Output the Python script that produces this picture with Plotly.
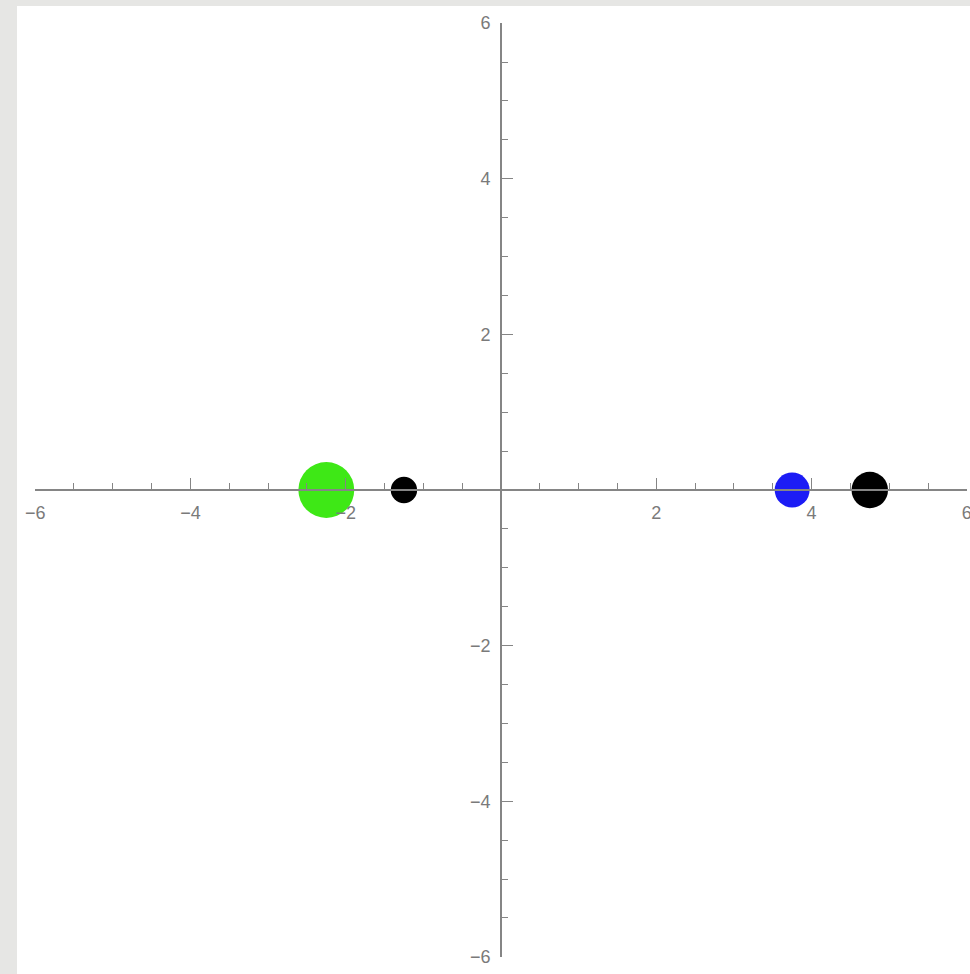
import plotly.graph_objects as go

# Bodies: position on the x axis, radius in axis units, colour
body_x = [-2.25, -1.25, 3.75, 4.75]
body_y = [0.0, 0.0, 0.0, 0.0]
body_r = [0.36, 0.17, 0.225, 0.235]
body_color = ["rgb(62,232,22)", "black", "rgb(28,28,245)", "black"]

# Links between paired bodies (index pairs) and their colours
links = [(0, 1), (2, 3)]
link_color = ["rgb(62,232,22)", "rgb(28,28,245)"]

tick_vals = [-6, -4, -2, 2, 4, 6]
tick_text = ["\u22126", "\u22124", "\u22122", "2", "4", "6"]

W, H = 970, 974
M = dict(l=35, r=3, t=23, b=17)
x_range = [-6.002, 6.002]
y_range = [-6.002, 6.002]
px_per_unit = (W - M["l"] - M["r"]) / (x_range[1] - x_range[0])

fig = go.Figure()

for (a, b), c in zip(links, link_color):
    fig.add_trace(go.Scatter(
        x=[body_x[a], body_x[b]], y=[body_y[a], body_y[b]],
        mode="lines", line=dict(color=c, width=1.5),
        hoverinfo="skip", showlegend=False))

fig.add_trace(go.Scatter(
    x=body_x, y=body_y, mode="markers",
    marker=dict(size=[2 * r * px_per_unit for r in body_r],
                color=body_color, opacity=1, line=dict(width=0)),
    showlegend=False))

axis_color = "#858585"
label_font = dict(family="Liberation Sans, Arial, sans-serif", size=18, color="#7a7a7a")

common = dict(
    tickmode="array", tickvals=tick_vals, ticktext=tick_text,
    showline=True, linecolor=axis_color, linewidth=1.6,
    ticks="inside", ticklen=11, tickwidth=1.3, tickcolor=axis_color,
    minor=dict(tickmode="linear", tick0=0, dtick=0.5, ticks="inside",
               ticklen=6, tickwidth=1.1, tickcolor=axis_color),
    showgrid=False, zeroline=False, automargin=False,
    tickfont=label_font, anchor="free", position=0.5,
    ticklabeloverflow="allow", fixedrange=True,
)

fig.update_layout(
    template="none",
    width=W, height=H, margin=M,
    paper_bgcolor="#e6e6e4", plot_bgcolor="white",
    xaxis=dict(range=x_range, ticklabelstandoff=7, **common),
    yaxis=dict(range=y_range, ticklabelstandoff=6, **common),
    shapes=[dict(type="rect", xref="paper", yref="paper", layer="below",
                 x0=-18 / 932, x1=1.05, y0=-0.05, y1=(957 - 6) / 934,
                 fillcolor="white", line=dict(width=0))],
)

fig.write_html("out.html")
